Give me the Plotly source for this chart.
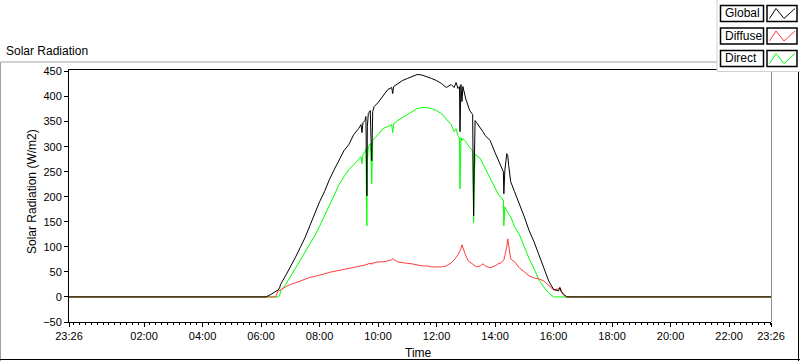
import pandas as pd
import plotly.graph_objects as go

# ---------------- data ----------------
times = ["23:26", "06:00", "06:10", "06:20", "06:30", "06:35", "06:38", "06:40", "06:50",
         "07:00", "07:10", "07:20", "07:30", "07:40", "07:50", "08:00", "08:10", "08:20",
         "08:30", "08:40", "08:50", "09:00", "09:10", "09:20", "09:25", "09:27", "09:29",
         "09:33", "09:35", "09:37", "09:38", "09:40", "09:44", "09:46", "09:47", "09:49",
         "09:52", "10:00", "10:10", "10:20", "10:28", "10:30", "10:32", "10:40", "10:50",
         "11:00", "11:10", "11:20", "11:30", "11:40", "11:50", "12:00", "12:10", "12:20",
         "12:30", "12:36", "12:40", "12:44", "12:47", "12:48", "12:50", "12:52", "12:54",
         "13:00", "13:05", "13:08", "13:14", "13:16", "13:17", "13:19", "13:22", "13:30",
         "13:35", "13:40", "13:50", "14:00", "14:06", "14:12", "14:17", "14:18", "14:20",
         "14:24", "14:26", "14:28", "14:32", "14:40", "14:50", "15:00", "15:10", "15:20",
         "15:30", "15:40", "15:50", "16:00", "16:10", "16:13", "16:16", "16:20", "16:27",
         "17:00", "23:26"]

global_rad = [0, 0, 0, 5, 10, 14, 18, 25, 42,
              59, 78, 98, 118, 142, 168, 190, 210, 234,
              254, 274, 292, 304, 324, 336, 344, 328, 348,
              352, 360, 202, 340, 366, 372, 300, 272, 370,
              380, 388, 402, 414, 418, 406, 420, 426, 432,
              436, 440, 444, 443, 440, 436, 432, 426, 418,
              424, 418, 428, 416, 420, 330, 424, 390, 420,
              395, 380, 372, 364, 162, 240, 352, 348, 338,
              330, 322, 312, 288, 274, 258, 250, 206, 252,
              286, 282, 262, 230, 210, 186, 160, 132, 110,
              84, 56, 32, 15, 12, 18, 10, 6, 0,
              0, 0]

diffuse_rad = [0, 0, 0, 0, 0, 12, 13, 14, 20,
               25, 28, 32, 36, 39, 41, 43, 46, 49,
               51, 53, 55, 57, 58, 60, 61, 62, 62,
               63, 64, 66, 64, 67, 66, 68, 65, 68,
               68, 70, 70, 72, 74, 77, 75, 70, 68,
               67, 66, 64, 62, 62, 60, 60, 60, 62,
               68, 74, 78, 84, 90, 92, 96, 104, 98,
               82, 72, 70, 66, 64, 64, 62, 60, 62,
               66, 62, 58, 62, 66, 68, 72, 74, 82,
               100, 116, 100, 76, 70, 58, 50, 42, 38,
               36, 32, 22, 14, 16, 20, 12, 4, 0,
               0, 0]

direct_rad = [0, 0, 0, 0, 0, 0, 2, 12, 24,
              40, 58, 74, 90, 106, 122, 141, 162, 184,
              204, 224, 240, 254, 264, 276, 280, 266, 284,
              290, 296, 142, 270, 300, 306, 260, 226, 312,
              316, 324, 336, 340, 344, 328, 346, 352, 358,
              364, 370, 376, 378, 378, 376, 372, 366, 356,
              344, 330, 336, 322, 318, 216, 318, 312, 316,
              310, 302, 298, 292, 148, 220, 286, 282, 276,
              266, 256, 238, 218, 206, 198, 194, 142, 180,
              172, 170, 166, 160, 140, 124, 98, 76, 56,
              34, 20, 8, 0, 0, 0, 0, 0, 0,
              0, 0]

tick_labels = ["23:26", "02:00", "04:00", "06:00", "08:00", "10:00", "12:00",
               "14:00", "16:00", "18:00", "20:00", "22:00", "23:26"]
y_ticks = [-50, 0, 50, 100, 150, 200, 250, 300, 350, 400, 450]

# ---------------- build datetimes ----------------
day1, day2 = "2024-01-01", "2024-01-02"
t = [pd.Timestamp(f"{day1 if i == 0 else day2} {s}") for i, s in enumerate(times)]
t_start, t_end = t[0], t[-1]
tick_vals = [pd.Timestamp(f"{day1 if i == 0 else day2} {s}") for i, s in enumerate(tick_labels)]

FONT = "Liberation Sans"
fig = go.Figure()
fig.add_trace(go.Scatter(x=t, y=direct_rad, mode="lines", line=dict(color="#00ff00", width=1), name="Direct"))
fig.add_trace(go.Scatter(x=t, y=diffuse_rad, mode="lines", line=dict(color="#ff3c3c", width=1), name="Diffuse"))
fig.add_trace(go.Scatter(x=t, y=global_rad, mode="lines", line=dict(color="#000000", width=1), name="Global"))

# plot-area pixel geometry
L, R, T, B = 69, 771, 70, 322
W, H = R - L, B - T
def px(x):
    return (x - L) / W
def py(y):
    return (B - y) / H

fig.update_layout(
    width=800, height=361,
    margin=dict(l=L, r=800 - R, t=T, b=361 - B),
    paper_bgcolor="white", plot_bgcolor="white",
    showlegend=False,
    font=dict(family=FONT, size=11, color="#000"),
)
fig.update_xaxes(
    type="date", range=[t_start, t_end],
    tickvals=tick_vals, ticktext=tick_labels,
    ticks="outside", ticklen=4, tickcolor="#000", tickwidth=1,
    minor=dict(ticks="outside", ticklen=2, tickcolor="#000", dtick=12 * 60 * 1000,
               tick0=f"{day2} 00:00", showgrid=False),
    showgrid=False, zeroline=False,
    showline=True, linecolor="#000", linewidth=1, mirror=True,
    tickfont=dict(family=FONT, size=11, color="#000"),
)
fig.update_yaxes(
    range=[-50, 453], tickvals=y_ticks,
    ticks="outside", ticklen=4, tickcolor="#000",
    showgrid=False, zeroline=False,
    showline=True, linecolor="#000", linewidth=1, mirror=False,
    tickfont=dict(family=FONT, size=11, color="#000"),
)

shapes = []
# right gray edge of plot
shapes.append(dict(type="line", xref="paper", yref="paper", x0=px(771.5), x1=px(771.5), y0=py(70), y1=py(322),
                   line=dict(color="#8c8c8c", width=1)))
# outer panel frame (gray top/left, black bottom/right)
shapes.append(dict(type="line", xref="paper", yref="paper", x0=px(0.5), x1=px(800), y0=py(62), y1=py(62),
                   line=dict(color="#a0a0a0", width=1)))
shapes.append(dict(type="line", xref="paper", yref="paper", x0=px(0.5), x1=px(0.5), y0=py(62), y1=py(361),
                   line=dict(color="#a0a0a0", width=1)))
shapes.append(dict(type="line", xref="paper", yref="paper", x0=px(0), x1=px(800), y0=py(359.5), y1=py(359.5),
                   line=dict(color="#000", width=1)))
shapes.append(dict(type="line", xref="paper", yref="paper", x0=px(798.5), x1=px(798.5), y0=py(62), y1=py(361),
                   line=dict(color="#000", width=1)))
# legend background
shapes.append(dict(type="rect", xref="paper", yref="paper", x0=px(717), x1=px(801), y0=py(-1), y1=py(71.5),
                   fillcolor="white", line=dict(color="#d0d0d0", width=1)))

legend_items = [("Global", "#000000"), ("Diffuse", "#ff3c3c"), ("Direct", "#00ff00")]
annotations = []
for i, (name, col) in enumerate(legend_items):
    y0 = 5.5 + i * 22.5
    y1 = y0 + 16
    shapes.append(dict(type="rect", xref="paper", yref="paper", x0=px(720.5), x1=px(763.5), y0=py(y0), y1=py(y1),
                       fillcolor="white", line=dict(color="#000", width=1.5)))
    shapes.append(dict(type="rect", xref="paper", yref="paper", x0=px(767), x1=px(797), y0=py(y0), y1=py(y1),
                       fillcolor="white", line=dict(color="#000", width=1.5)))
    pts = [(769.5, y1 - 3), (776, y0 + 3), (784, y1 - 3), (795, y0 + 3)]
    path = "M " + " L ".join(f"{px(a)},{py(b)}" for a, b in pts)
    shapes.append(dict(type="path", xref="paper", yref="paper", path=path, line=dict(color=col, width=1)))
    annotations.append(dict(text=name, x=px(723), y=py((y0 + y1) / 2), xref="paper", yref="paper",
                            xanchor="left", yanchor="middle", showarrow=False,
                            font=dict(family=FONT, size=12, color="#000")))

annotations += [
    dict(text="Solar Radiation", x=px(4), y=py(51), xref="paper", yref="paper", xanchor="left",
         yanchor="middle", showarrow=False, font=dict(family=FONT, size=12, color="#000")),
    dict(text="Solar Radiation (W/m2)", x=px(32), y=py(192), xref="paper", yref="paper", textangle=-90,
         xanchor="center", yanchor="middle", showarrow=False, font=dict(family=FONT, size=12, color="#000")),
    dict(text="Time", x=px(418), y=py(353), xref="paper", yref="paper", xanchor="center",
         yanchor="middle", showarrow=False, font=dict(family=FONT, size=12, color="#000")),
]
fig.update_layout(shapes=shapes, annotations=annotations)

fig.write_html("out.html", config={"displayModeBar": False},
               post_script="document.body.style.margin='0';document.body.style.overflow='hidden';")
